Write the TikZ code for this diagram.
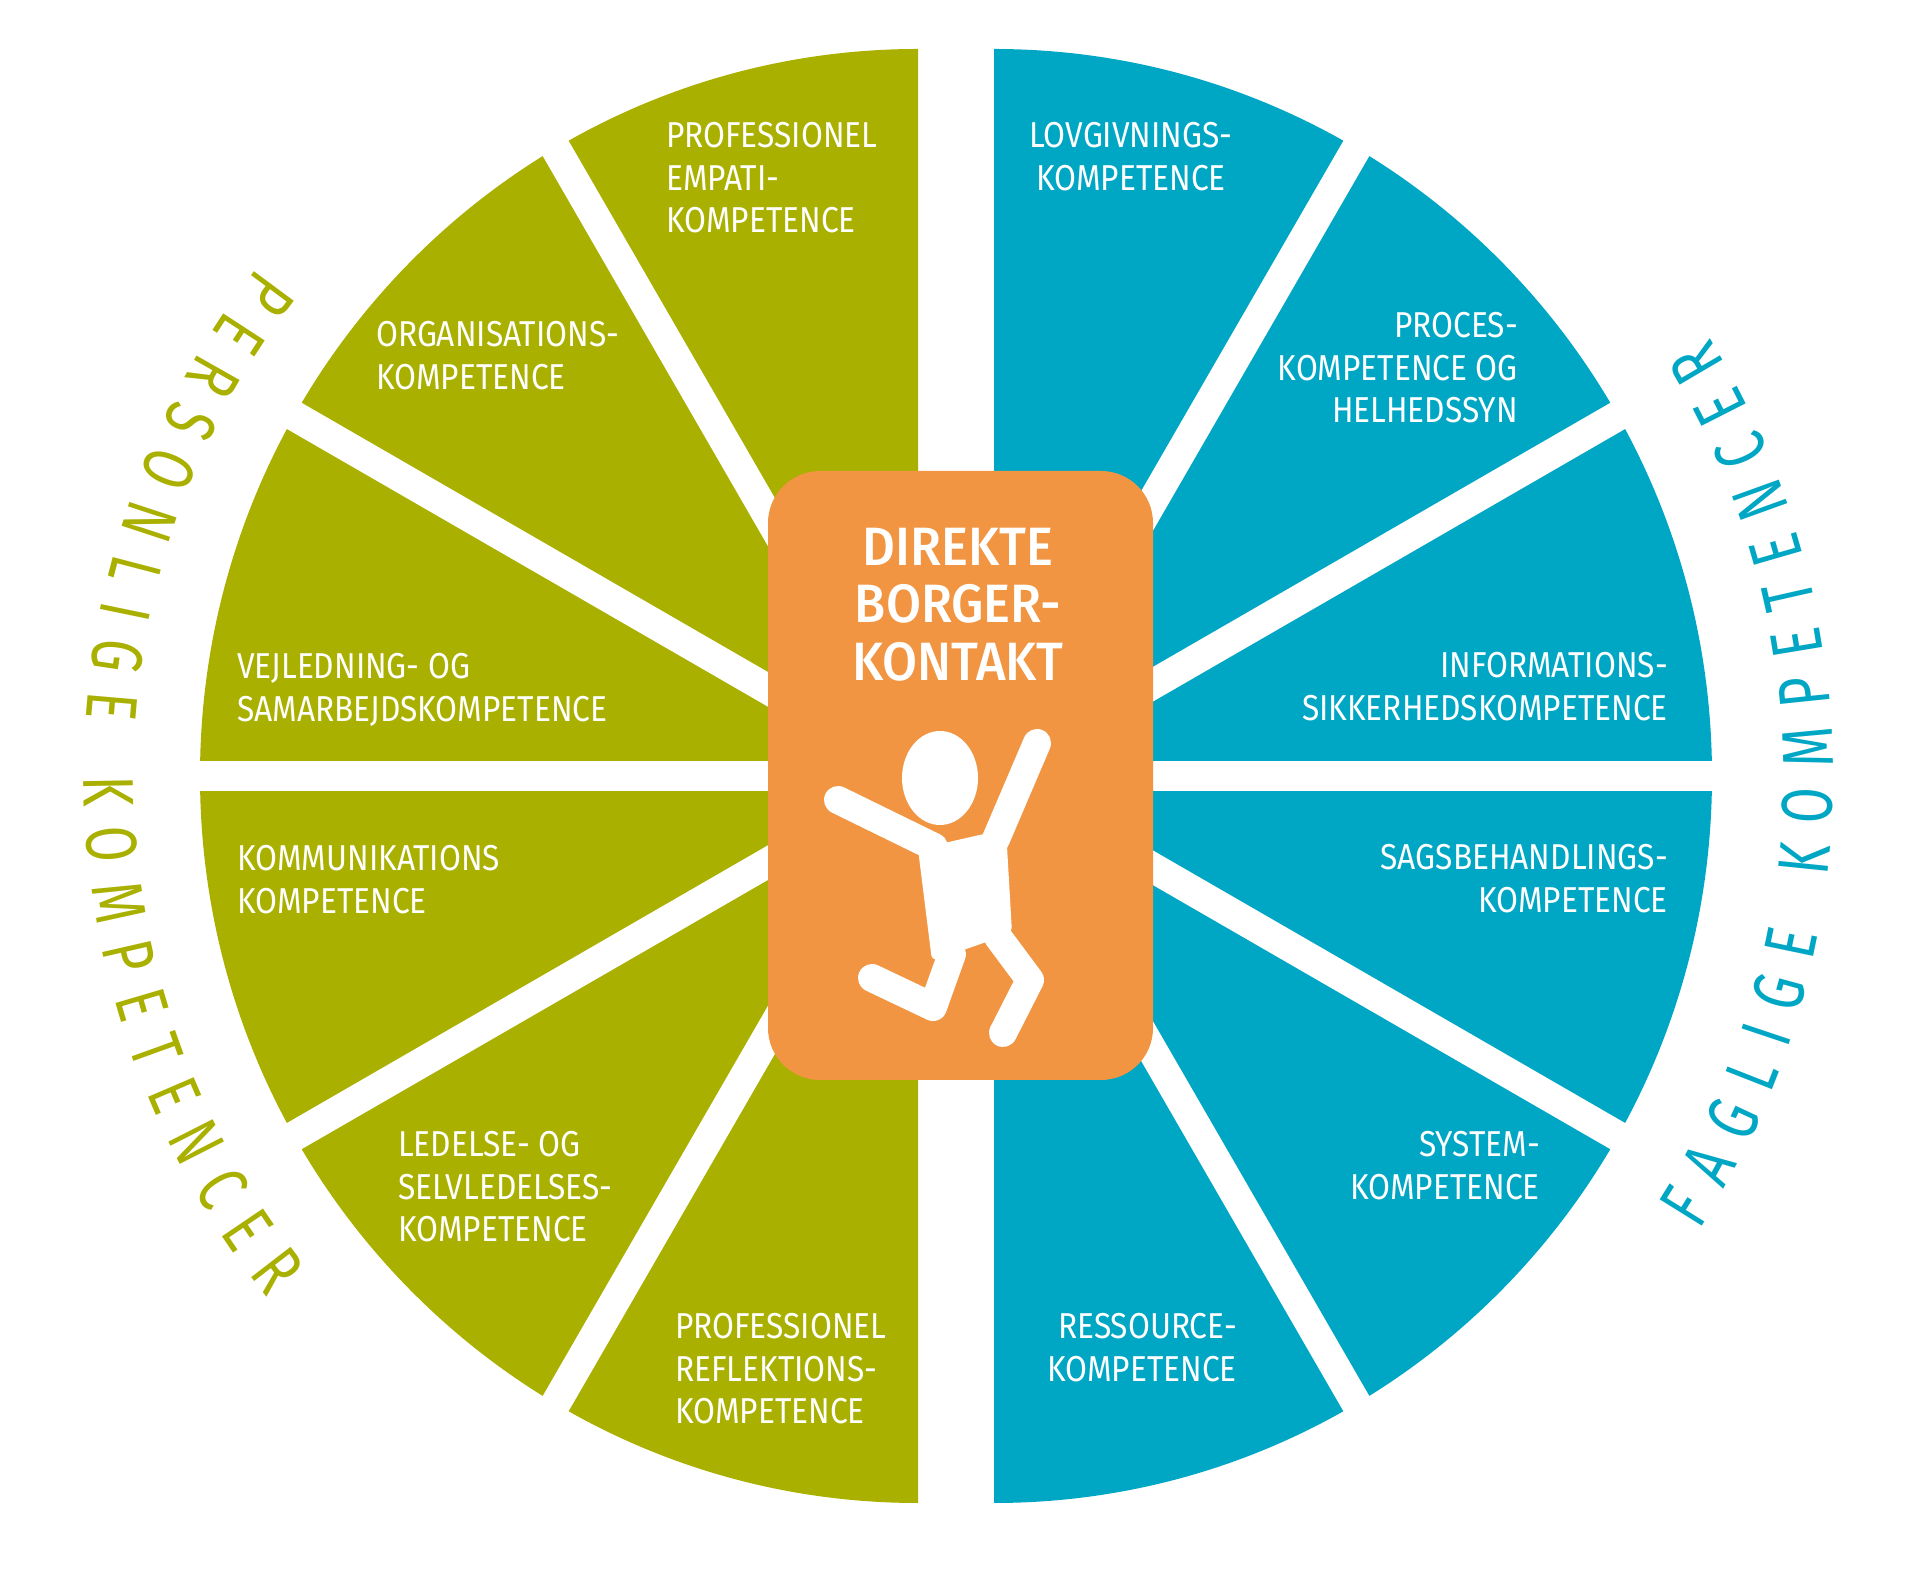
\documentclass[tikz,border=0pt]{standalone}
\usepackage{fontspec}
\setmainfont{Fira Sans}
\newfontfamily\labelfont{Fira Sans}[FakeStretch=0.88]
\newfontfamily\titlefont{Fira Sans Medium}[FakeStretch=0.94]
\newfontfamily\arcfont{Fira Sans}[FakeStretch=0.72]
\usetikzlibrary{decorations.text}
\definecolor{wheelgreen}{HTML}{A9B000}
\definecolor{wheelblue}{HTML}{00A7C4}
\definecolor{boxorange}{HTML}{F19542}

\begin{document}
\begin{tikzpicture}[x=1pt,y=1pt,
        gap/.style={white,line width=30pt},
        lbl/.style={inner sep=0pt,text=white,font=\labelfont\fontsize{36}{42.5}\selectfont},
        lbll/.style={lbl,anchor=north west,align=left},
        lblr/.style={lbl,anchor=north east,align=right},
        limb/.style={white,line width=28pt,line cap=round,line join=round}]
    \useasboundingbox (0,0) rectangle (1920,1569);
    \coordinate (cl) at (918,793);
    \coordinate (cr) at (994,793);
    % the two halves of the wheel
    \fill[wheelgreen] (cl) -- ++(0,727) arc[start angle=90,end angle=270,x radius=718pt,y radius=727pt] -- cycle;
    \fill[wheelblue] (cr) -- ++(0,-727) arc[start angle=-90,end angle=90,x radius=718pt,y radius=727pt] -- cycle;
    \foreach \a in {120,150,180,210,240}
        \draw[gap] (cl) -- ++(\a:800);
    \foreach \a in {-60,-30,0,30,60}
        \draw[gap] (cr) -- ++(\a:800);
    % centre
    \node[fill=boxorange,rounded corners=52pt,minimum width=385pt,minimum height=609pt,inner sep=0pt] (box) at (960.5,793.5) {};
    \node[text=white,font=\titlefont\fontsize{54}{57.5}\selectfont,align=center,anchor=north,inner sep=0pt] (title) at (958,1041.5) {DIREKTE\\BORGER-\\KONTAKT};
    \fill[white] (940,791) ellipse[x radius=38pt,y radius=47pt];
    \draw[limb] (838,769) -- (934,722);
    \draw[limb] (1037,826) -- (996,730);
    \fill[white,rounded corners=6pt] (918,720) -- (1006,740) -- (1012,636) -- (932,608) -- cycle;
    \draw[limb] (952,615) -- (933,562) -- (872,591);
    \draw[limb] (998,632) -- (1030,589) -- (1003,536);
    % left labels
    \node[lbll] (empati) at (666,1446.5) {PROFESSIONEL\\EMPATI-\\KOMPETENCE};
    \node[lbll] (organisation) at (376,1247.5) {ORGANISATIONS-\\KOMPETENCE};
    \node[lbll] (vejledning) at (237,915.5) {VEJLEDNING- OG\\SAMARBEJDSKOMPETENCE};
    \node[lbll] (kommunikation) at (237,723.5) {KOMMUNIKATIONS\\KOMPETENCE};
    \node[lbll] (ledelse) at (398,437.5) {LEDELSE- OG\\SELVLEDELSES-\\KOMPETENCE};
    \node[lbll] (refleksion) at (675,255.5) {PROFESSIONEL\\REFLEKTIONS-\\KOMPETENCE};
    % right labels
    \node[lbl,anchor=north,align=center] (lovgivning) at (1131,1446.5) {LOVGIVNINGS-\\KOMPETENCE};
    \node[lblr] (proces) at (1518,1256.5) {PROCES-\\KOMPETENCE OG\\HELHEDSSYN};
    \node[lblr] (information) at (1668,916.5) {INFORMATIONS-\\SIKKERHEDSKOMPETENCE};
    \node[lblr] (sagsbehandling) at (1668,724.5) {SAGSBEHANDLINGS-\\KOMPETENCE};
    \node[lblr] (system) at (1540,437.5) {SYSTEM-\\KOMPETENCE};
    \node[lblr] (ressource) at (1237,255.5) {RESSOURCE-\\KOMPETENCE};
    % texts round the wheel
    \path[shift={(cl)},decorate,decoration={text along path,text align=fit to path,text color=wheelgreen,
        text={|\arcfont\fontsize{72}{72}\selectfont|PERSONLIGE KOMPETENCER}}]
        (142.4:834) arc[start angle=142.4,end angle=218.7,radius=834pt];
    \path[shift={(cr)},decorate,decoration={text along path,text align=fit to path,text color=wheelblue,
        text={|\arcfont\fontsize{72}{72}\selectfont|FAGLIGE KOMPETENCER}}]
        (-32.8:839) arc[start angle=-32.8,end angle=31.5,radius=839pt];
\end{tikzpicture}
\end{document}
